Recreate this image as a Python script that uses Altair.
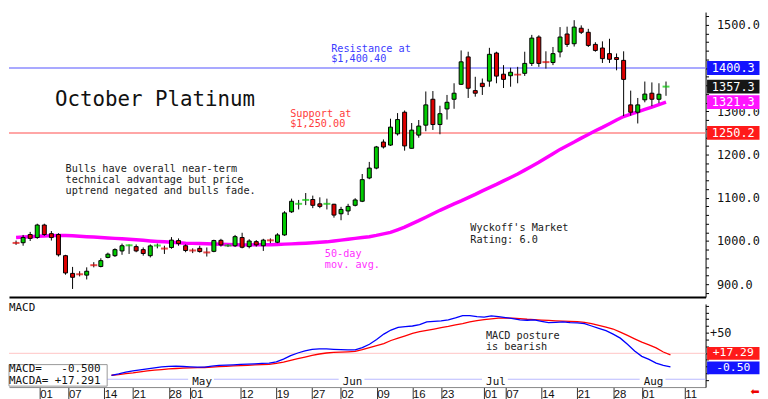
import altair as alt
import pandas as pd

# ---------------- data ----------------
# trading-day index 0 = Mar 26 ... 92 = Aug 7
opens = [997, 996, 1015, 1008, 1037, 1017, 1015, 966, 925, 925, 921, 946, 941, 962, 966, 977, 988, 987, 980, 966,
         988, 984, 985, 1001, 989, 980, 983, 975, 976, 1001.5, 988, 989, 1008, 987, 998.5, 989, 1003, 997, 1014, 1067.5,
         1084, 1093, 1096, 1086, 1084, 1085, 1063, 1069.5, 1082.6, 1092, 1145.8, 1168.7, 1229, 1222, 1248, 1298, 1214.5, 1245, 1268, 1328,
         1269.5, 1305.6, 1328, 1362.6, 1426, 1348, 1365, 1370, 1435, 1386, 1382.5, 1387, 1388, 1411, 1472, 1416, 1413, 1437.5, 1479, 1456.5,
         1492.4, 1483, 1455, 1446.6, 1433.6, 1424.5, 1418, 1315, 1298, 1326.7, 1342, 1328, 1355]
highs = [1001, 1014, 1021, 1040, 1040, 1023, 1018, 968, 940, 930, 939, 951, 960, 973, 983, 994, 992, 992, 985, 992,
         994, 989, 1009, 1006, 992, 983, 989, 985, 1003, 1005, 992, 1014, 1019, 1004, 1002, 1005, 1006, 1018, 1069, 1098,
         1095, 1111, 1105, 1101, 1098, 1086, 1079, 1086, 1099, 1155, 1183, 1220, 1235, 1283, 1296, 1302, 1273, 1280, 1346, 1347,
         1313, 1338, 1365, 1441, 1438, 1380, 1376, 1447, 1438, 1407, 1401, 1403, 1438, 1477, 1476, 1439, 1449, 1495, 1496, 1511,
         1499, 1491, 1460, 1462, 1468, 1434, 1439, 1348, 1331, 1369, 1367, 1365, 1369]
lows = [991, 989, 1000, 1005, 1012, 1001, 964, 922, 889, 918, 911, 939, 939, 960, 963, 968, 970, 974, 966, 962,
        983, 970, 982, 989, 974, 972, 973, 964, 974, 987, 986, 986, 983, 983, 987, 977, 995, 995, 1012, 1065,
        1073, 1083, 1076, 1076, 1073, 1054, 1048, 1060, 1080, 1090, 1143, 1166, 1214, 1220, 1244, 1209, 1214, 1239, 1254, 1257,
        1247, 1281, 1306, 1361, 1331, 1334, 1338, 1357, 1365, 1354, 1357, 1365, 1382, 1405, 1403, 1399, 1407, 1425, 1449, 1450,
        1479, 1449, 1438, 1412, 1412, 1395, 1289, 1290, 1272, 1321, 1312, 1319, 1336]
closes = [995.5, 1008, 1006, 1037, 1015, 1008, 968, 926, 916, 923, 930, 944, 954.5, 969.5, 980, 989, 990, 977, 971, 988.6,
          989.5, 982.5, 1002, 994, 978, 978, 975.6, 973.5, 1001, 991, 989.5, 1010, 985.5, 1000, 991, 1002, 1001.5, 1014, 1065, 1092,
          1086, 1095, 1082.6, 1080, 1086, 1060, 1073, 1080, 1095, 1142, 1168.7, 1217.6, 1217.6, 1263.5, 1281, 1220, 1256.6, 1266, 1315, 1269.5,
          1294.6, 1321, 1342, 1414.6, 1353.5, 1342, 1357.3, 1432, 1381.6, 1374, 1390.5, 1385, 1411, 1469.5, 1411, 1414, 1433.6, 1472, 1455, 1495,
          1483, 1452.6, 1441, 1422, 1420.5, 1420, 1374, 1298, 1315, 1340, 1328, 1339.7, 1357.3]
ma50 = [1008, 1009, 1010, 1011, 1011.7, 1012.4, 1013, 1012.6, 1012, 1011, 1010, 1009, 1008, 1007, 1006, 1005, 1004, 1002.8, 1001.5, 1000.2,
        999, 998, 997, 996, 995, 994.5, 994, 993.5, 993, 992.5, 992, 991.5, 991, 991, 991.2, 991.3, 991.5, 992, 992.7, 993.3,
        994, 995, 996, 997, 998, 1000, 1002, 1004, 1006, 1008, 1010, 1013, 1016.5, 1020, 1026, 1032, 1039.5, 1047, 1055, 1063,
        1071, 1078.5, 1086, 1093, 1100.5, 1108, 1116, 1123.5, 1131, 1139, 1147, 1155, 1164, 1173, 1182, 1192, 1202, 1212, 1220.5, 1229,
        1238, 1246.5, 1255, 1263, 1271.5, 1280, 1288, 1293.5, 1299, 1304.5, 1310, 1315.5, 1321.3]

macd_first = 14
macd_line = [-13, -11, -8.5, -6.5, -5, -3.5, -2, -0.5, 0.3, 0.5,
             0, -0.5, -1, -1, 0.5, 1.5, 2, 2.5, 3, 3.5,
             4, 4.5, 5, 7, 11, 16, 20, 23, 25.5, 26,
             26, 25.5, 25, 24.5, 24.5, 28, 33, 40, 48, 54,
             58, 59, 60, 62, 66, 67, 67.5, 69, 72, 75.5,
             75.5, 74, 73, 75, 74, 72.5, 71, 69, 68.5, 69,
             67, 65, 65.5, 66, 65, 64.5, 63.5, 60, 56.5, 53,
             48, 42, 33, 23, 15, 10.5, 5, 1.5, -0.5]
macda_line = [-13, -12, -10.5, -9.5, -8, -6.5, -5.5, -4.5, -3.5, -3,
              -2.5, -2, -1.8, -1.5, -1, -0.3, 0.3, 0.8, 1.3, 1.8,
              2.3, 2.8, 3.2, 4.5, 6.5, 9, 11.5, 14, 16.5, 18.5,
              20, 20.8, 21.3, 21.8, 22.3, 25, 28, 31, 34, 38.5,
              42, 45.5, 49, 51.5, 53.5, 55.5, 57.5, 59.3, 61.5, 63.5,
              66, 68, 69.3, 70.5, 71.5, 71.8, 71.5, 70.8, 70, 69.5,
              68.8, 68.2, 67.6, 67.2, 66.8, 66.4, 65.5, 63.5, 61, 58.5,
              55.5, 51, 46, 41, 36, 32, 27.5, 21.5, 17.3]

tick_pos = [4, 8, 13, 17, 22, 25, 32, 37, 42, 46, 51, 56, 60, 66, 69, 74, 79, 84, 88, 94]
tick_lbl = ["01", "07", "14", "21", "28", "01", "12", "19", "27", "02", "09", "16", "23", "01", "07", "14",
            "21", "28", "01", "11"]
month_pos = [25, 46, 66, 88]
month_lbl = ["May", "Jun", "Jul", "Aug"]

resistance = 1400.40
support = 1250.00
price_tags = [1400.3, 1357.3, 1321.3, 1250.2]
macd_now = -0.500
macda_now = 17.291
macd_ref_level = 19.5
month_band_level = -18.9

# ---------------- layout / style ----------------
W, H1, H2 = 704, 288, 84
FONT = "DejaVu Sans Mono"
NB = "\u00a0"
GREEN, RED = "#00cc00", "#dd0000"
xs = alt.Scale(domain=[-0.3, 96.9], nice=False, zero=False)
ys = alt.Scale(domain=[870.3, 1529.8], nice=False, zero=False)
ms = alt.Scale(domain=[-30.5, 92.65], nice=False, zero=False)

x_axis_main = alt.Axis(orient="bottom", labels=False, ticks=False, domain=True, domainColor="black",
                       domainWidth=2, grid=False, title=None)
y_axis_main = alt.Axis(orient="right", values=list(range(880, 1530, 20)),
                       labelExpr="(datum.value % 100 == 0 && datum.value != 1400) ? format(datum.value, '.1f') : ''",
                       tickSize=3, tickColor="black", labelPadding=8, domainColor="black",
                       labelFont=FONT, labelFontSize=12, labelColor="#111", grid=False, title=None,
                       labelOverlap=False, labelFlush=False)
lbl_arr = ",".join(f"'{s}'" for s in tick_lbl)
pos_arr = ",".join(str(v) for v in tick_pos)
THIN = "\u2009"
x_axis_macd = alt.Axis(orient="bottom", values=tick_pos,
                       labelExpr=f"'{THIN}' + [{lbl_arr}][indexof([{pos_arr}], datum.value)]",
                       tickSize=14, tickColor="#333", labelAlign="left", labelBaseline="top",
                       labelPadding=-12, labelFont="Liberation Sans", labelFontSize=11.5, labelColor="#111",
                       domainColor="#888", grid=False, title=None, labelOverlap=False, labelFlush=False)
y_axis_macd = alt.Axis(orient="right", values=list(range(-20, 91, 10)),
                       labelExpr="datum.value == 50 ? '+50' : ''", tickSize=3, tickColor="black",
                       labelPadding=1, domainColor="black", labelFont=FONT, labelFontSize=12,
                       labelColor="#111", grid=False, title=None, labelOverlap=False, labelFlush=False)

X1 = lambda f: alt.X(f, scale=xs, axis=x_axis_main)
Y1 = lambda f: alt.Y(f, scale=ys, axis=y_axis_main)
X2 = lambda f: alt.X(f, scale=xs, axis=x_axis_macd)
Y2 = lambda f: alt.Y(f, scale=ms, axis=y_axis_macd)


def texts(i, ys_, lines, color, size, X, Y, font=FONT, dx=0):
    d = pd.DataFrame({"i": [i] * len(lines), "p": ys_, "t": lines})
    return alt.Chart(d).mark_text(align="left", baseline="middle", font=font, fontSize=size, dx=dx,
                                  color=color).encode(x=X("i:Q"), y=Y("p:Q"), text="t:N")


def tags(values, labels, colors, Y, h, offsets=None, fs=12):
    out = []
    tw = 53
    hh = h / tw
    shape = f"M-1,-{hh:.4f}L1,-{hh:.4f}L1,{hh:.4f}L-1,{hh:.4f}Z"
    offsets = offsets or [0] * len(values)
    for v, t, col, off in zip(values, labels, colors, offsets):
        d = pd.DataFrame({"p": [v], "t": [t]})
        out.append(alt.Chart(d).mark_point(shape=shape, size=tw * tw, filled=True, color=col, opacity=1,
                                           strokeWidth=0, yOffset=off).encode(x=alt.value(W + 28), y=Y("p:Q")))
        out.append(alt.Chart(d).mark_text(font=FONT, fontSize=fs, color="white", align="center",
                                          baseline="middle", yOffset=off).encode(
            x=alt.value(W + 28), y=Y("p:Q"), text="t:N"))
    return out


# ---------------- main price panel ----------------
n = len(opens)
cdf = pd.DataFrame({"i": list(range(n)), "o": opens, "h": highs, "l": lows, "c": closes})
cdf["dir"] = ["up" if c >= o else "down" for o, c in zip(opens, closes)]
cdf["doji"] = [abs(c - o) < 3 for o, c in zip(opens, closes)]
col_enc = alt.Color("dir:N", scale=alt.Scale(domain=["up", "down"], range=[GREEN, RED]), legend=None)

res_rule = alt.Chart(pd.DataFrame({"p": [resistance]})).mark_rule(color="#8c8cff", strokeWidth=1.5).encode(y=Y1("p:Q"))
sup_rule = alt.Chart(pd.DataFrame({"p": [support]})).mark_rule(color="#ff8888", strokeWidth=1.5).encode(y=Y1("p:Q"))
ma_df = pd.DataFrame({"i": list(range(len(ma50))), "p": ma50})
ma_line = alt.Chart(ma_df).mark_line(color="#ff00ff", strokeWidth=3.5).encode(x=X1("i:Q"), y=Y1("p:Q"))
wicks = alt.Chart(cdf).mark_rule(color="black", strokeWidth=1).encode(x=X1("i:Q"), y=Y1("l:Q"), y2="h:Q")
bodies = alt.Chart(cdf).transform_filter("!datum.doji").mark_bar(
    width=4, stroke="black", strokeWidth=1, orient="vertical").encode(x=X1("i:Q"), y=Y1("o:Q"), y2="c:Q", color=col_enc)
dojis = alt.Chart(cdf).transform_filter("datum.doji").mark_tick(
    orient="horizontal", size=7, thickness=2).encode(x=X1("i:Q"), y=Y1("c:Q"), color=col_enc)

main_layers = [res_rule, sup_rule, ma_line, wicks, bodies, dojis,
               texts(5.5, [1325], ["October Platinum"], "#111", 21, X1, Y1),
               texts(7.0, [1165.7, 1140.5, 1115.3],
                     ["Bulls have overall near-term", "technical advantage but price",
                      "uptrend negated and bulls fade."], "#222", 10.3, X1, Y1),
               texts(44.6, [1445, 1421.5], ["Resistance at", "$1,400.40"], "#3c3cff", 10.3, X1, Y1),
               texts(38.8, [1294.4, 1271], ["Support at", "$1,250.00"], "#ff3c3c", 10.3, X1, Y1),
               texts(43.7, [969.4, 945], ["50-day", "mov. avg."], "#ff30ff", 10.3, X1, Y1),
               texts(64.3, [1030.6, 1003], ["Wyckoff's Market", "Rating: 6.0"], "#222", 10.3, X1, Y1)]
main_layers += tags(price_tags, [f"{v:.1f}" for v in price_tags],
                    ["#1414ff", "#161616", "#ff14ff", "#ff1a1a"], Y1, 14)
main = alt.layer(*main_layers).properties(width=W, height=H1)

# ---------------- MACD panel ----------------
mi = list(range(macd_first, macd_first + len(macd_line)))
mdf = pd.DataFrame({"i": mi, "m": macd_line, "a": macda_line})
ref_rule = alt.Chart(pd.DataFrame({"p": [macd_ref_level]})).mark_rule(color="#ffc4c4", strokeWidth=1).encode(y=Y2("p:Q"))
band_rule = alt.Chart(pd.DataFrame({"p": [month_band_level]})).mark_rule(color="#b8b8ff", strokeWidth=1).encode(y=Y2("p:Q"))
mon_df = pd.DataFrame({"i": month_pos, "t": month_lbl})
mon_df["a"] = mon_df["i"] - 0.3
mon_df["b"] = mon_df["i"] + 3.3
mon_df["v0"] = -16.0
mon_df["v1"] = -22.0
mon_bg = alt.Chart(mon_df).mark_rect(color="white").encode(x=X2("a:Q"), x2="b:Q", y=Y2("v0:Q"), y2="v1:Q")
mon_txt = alt.Chart(mon_df).transform_calculate(v="-22.5").mark_text(
    align="left", baseline="middle", dx=2, font=FONT, fontSize=11, color="#111").encode(
    x=X2("i:Q"), y=Y2("v:Q"), text="t:N")
macda_ln = alt.Chart(mdf).mark_line(color="#ff0000", strokeWidth=1.3).encode(x=X2("i:Q"), y=Y2("a:Q"))
macd_ln = alt.Chart(mdf).mark_line(color="#0000ff", strokeWidth=1.3).encode(x=X2("i:Q"), y=Y2("m:Q"))
box_df = pd.DataFrame({"a": [-0.3], "b": [13.4], "v0": [2.8], "v1": [-29.1]})
vbox = alt.Chart(box_df).mark_rect(fill="white", stroke="#999999", strokeWidth=1).encode(
    x=X2("a:Q"), x2="b:Q", y=Y2("v0:Q"), y2="v1:Q")

macd_txt = f"MACD={macd_now:>9.3f}".replace(" ", NB)
macda_txt = f"MACDA= {macda_now:+.3f}".replace(" ", NB)
macd_layers = [ref_rule, band_rule, mon_bg, mon_txt, macda_ln, macd_ln, vbox,
               texts(-0.3, [-4.0, -21.8], [macd_txt, macda_txt], "#111", 11, X2, Y2),
               texts(-0.3, [87], ["MACD"], "#111", 11, X2, Y2),
               texts(66.25, [44.8, 29.3], ["MACD posture", "is bearish"], "#222", 10.3, X2, Y2)]
macd_layers += tags([macda_now, macd_now], [f"{macda_now:+.2f}", f"{macd_now:+.2f}"],
                    ["#ff1a1a", "#1414ff"], Y2, 13, offsets=[-1.5, 1], fs=11.5)
arrow_df = pd.DataFrame({"p": [-38.0], "t": ["\u2b05"]})
macd_layers.append(alt.Chart(arrow_df).mark_text(font="DejaVu Sans", fontSize=11, color="#ee0000",
                                                 align="center", baseline="middle").encode(
    x=alt.value(W + 50), y=Y2("p:Q"), text="t:N"))
macd_panel = alt.layer(*macd_layers).properties(width=W, height=H2)

chart = alt.vconcat(main, macd_panel, spacing=0).properties(padding=0).configure_view(stroke=None)
chart.save("out.html", embed_options={"renderer": "svg", "actions": False})
